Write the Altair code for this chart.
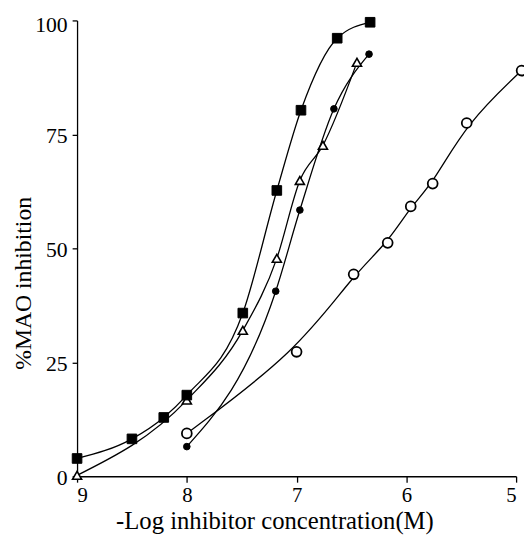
import altair as alt
import pandas as pd

# Filled squares
sq_x = [9.0, 8.5, 8.21, 8.0, 7.49, 7.18, 6.96, 6.63, 6.33]
sq_y = [3.9, 8.2, 12.9, 17.8, 35.8, 62.7, 80.3, 96.1, 99.6]
# Filled circles
fc_x = [8.0, 7.19, 6.97, 6.66, 6.34]
fc_y = [6.5, 40.6, 58.4, 80.6, 92.6]
# Open triangles
tr_x = [9.0, 8.0, 7.49, 7.18, 6.97, 6.76, 6.45]
tr_y = [0.2, 16.7, 32.0, 47.8, 64.9, 72.6, 90.8]
# Open circles
oc_x = [8.0, 7.0, 6.48, 6.17, 5.96, 5.76, 5.45, 4.95]
oc_y = [9.4, 27.3, 44.3, 51.2, 59.2, 64.2, 77.5, 89.0]

x_ticks = [9, 8, 7, 6, 5]
y_ticks = [0, 25, 50, 75, 100]

FONT = "Times New Roman, Liberation Serif, DejaVu Serif, serif"

def df(xs, ys):
    return pd.DataFrame({"x": xs, "y": ys})

xs = alt.Scale(domain=[5, 9], reverse=True, nice=False, zero=False)
ys = alt.Scale(domain=[0, 100], nice=False)

xenc = alt.X("x:Q", scale=xs,
             axis=alt.Axis(values=x_ticks, title="-Log inhibitor concentration(M)",
                           grid=False, tickSize=6, labelPadding=20,
                           labelBaseline="alphabetic", labelFontSize=21,
                           titleFontSize=25, titleBaseline="alphabetic",
                           titleAlign="center", titleX=200, titleY=53, format="d"))
yenc = alt.Y("y:Q", scale=ys,
             axis=alt.Axis(values=y_ticks, title="%MAO inhibition", grid=False,
                           tickSize=5, labelPadding=5, labelFontSize=22,
                           labelBaseline="middle",
                           labelOffset={"condition": {"test": "datum.value == 100", "value": 4}, "value": 1},
                           titleFontSize=24, titleBaseline="middle",
                           titleX=-54, titleY=266, format="d"))

def series(xv, yv, shape, filled, size, interp, sw):
    d = df(xv, yv)
    line = alt.Chart(d).mark_line(color="black", strokeWidth=1.3,
                                  interpolate=interp).encode(x=xenc, y=yenc)
    pts = alt.Chart(d).mark_point(shape=shape, filled=True,
                                  fill="black" if filled else "white",
                                  stroke="black", strokeWidth=sw,
                                  size=size, opacity=1).encode(x=xenc, y=yenc)
    return [line, pts]

layers = []
layers += series(oc_x, oc_y, "circle", False, 100, "basis", 1.8)
layers += series(fc_x, fc_y, "circle", True, 45, "monotone", 1)
layers += series(tr_x, tr_y, "triangle-up", False, 85, "monotone", 1.6)
layers += series(sq_x, sq_y, "square", True, 95, "monotone", 1)

chart = alt.layer(*layers).properties(
    width=445, height=462,
    autosize=alt.AutoSizeParams(type="none"),
    padding={"left": 70, "top": 9, "right": 8, "bottom": 60},
).configure_view(stroke=None).configure_axis(
    domainColor="black", tickColor="black", labelColor="black", titleColor="black",
    labelFont=FONT, titleFont=FONT,
    titleFontWeight="normal", domainWidth=1.3, tickWidth=1.3,
).configure_axisX(labelAngle=0)

chart.save("out.html", embed_options={"renderer": "svg", "actions": False})
